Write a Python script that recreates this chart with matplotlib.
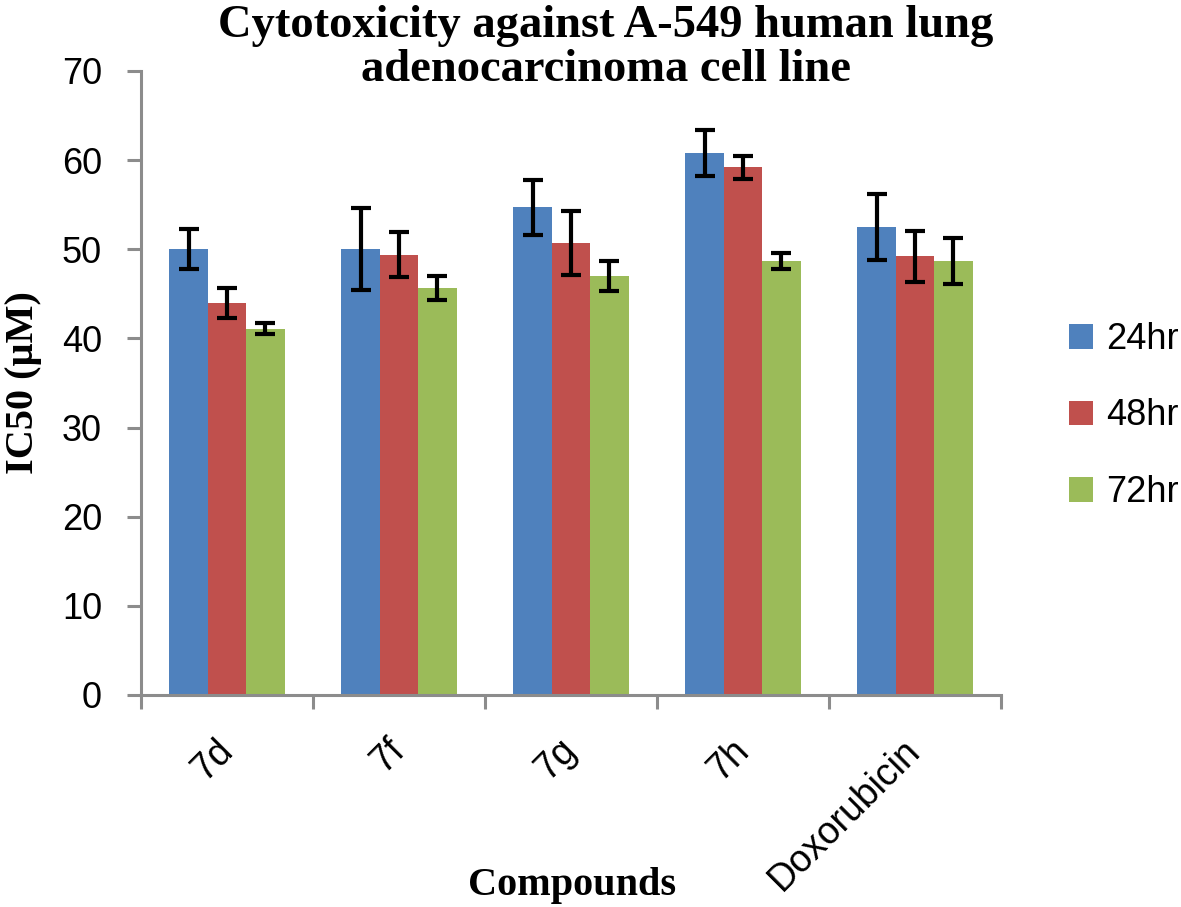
import matplotlib.pyplot as plt
import numpy as np

compounds = ["7d", "7f", "7g", "7h", "Doxorubicin"]
series_names = ["24hr", "48hr", "72hr"]

ic50_24hr = [50.0, 50.0, 54.7, 60.8, 52.5]
err_24hr = [2.25, 4.6, 3.1, 2.6, 3.75]
ic50_48hr = [44.0, 49.4, 50.7, 59.2, 49.2]
err_48hr = [1.7, 2.5, 3.6, 1.3, 2.9]
ic50_72hr = [41.1, 45.7, 47.0, 48.65, 48.65]
err_72hr = [0.6, 1.35, 1.7, 0.9, 2.6]

colors = ["#4F81BD", "#C0504D", "#9BBB59"]

serif = "Liberation Serif"
sans = "Liberation Sans"
axis_grey = "#8C8C8C"

fig = plt.figure(figsize=(11.81, 9.07), dpi=100)
ax = fig.add_axes([141/1181, 1 - 695/907, 860/1181, 624/907])

x = np.arange(len(compounds))
width = 0.2233
all_vals = [ic50_24hr, ic50_48hr, ic50_72hr]
all_errs = [err_24hr, err_48hr, err_72hr]

for k, (vals, errs) in enumerate(zip(all_vals, all_errs)):
    ax.bar(x + (k - 1) * width, vals, width, color=colors[k], label=series_names[k], zorder=2)
    ax.errorbar(x + (k - 1) * width, vals, yerr=errs, fmt="none", ecolor="black",
                elinewidth=3.0, capsize=7, capthick=3.0, zorder=3)

ax.set_xlim(-0.5, len(compounds) - 0.5)
ax.set_ylim(0, 70)
ax.set_yticks(np.arange(0, 71, 10))

for side in ["top", "right"]:
    ax.spines[side].set_visible(False)
for side in ["left", "bottom"]:
    ax.spines[side].set_color(axis_grey)
    ax.spines[side].set_linewidth(2.2)

ax.tick_params(axis="y", direction="out", length=10, width=2.2, color=axis_grey,
               labelsize=26, pad=18)
for lbl in ax.get_yticklabels():
    lbl.set_fontfamily(sans)

ax.set_xticks(x)
ax.set_xticks(np.arange(-0.5, len(compounds), 1.0), minor=True)
ax.tick_params(axis="x", which="major", length=0, pad=36)
ax.tick_params(axis="x", which="minor", direction="out", length=10, width=2.2, color=axis_grey)
ax.set_xticklabels(compounds, rotation=45, ha="right", va="center",
                   rotation_mode="anchor", fontsize=27, fontfamily=sans)

fig.text(606/1181, 1 - 48/907, "Cytotoxicity against A-549 human lung\nadenocarcinoma cell line",
         ha="center", va="center", fontsize=33.5, fontweight="bold", fontfamily=serif,
         linespacing=1.05)
fig.text(572/1181, 1 - 885/907, "Compounds", ha="center", va="center",
         fontsize=29, fontweight="bold", fontfamily=serif)
fig.text(24/1181, 1 - 383/907, "IC50 (µM)", ha="center", va="center", rotation=90,
         fontsize=29, fontweight="bold", fontfamily=serif)

fig.legend(loc="center left", bbox_to_anchor=(1069/1181, 1 - 416/907), frameon=False,
           prop={"family": sans, "size": 26}, handlelength=0.67, handleheight=0.67,
           handletextpad=0.35, labelspacing=1.15, borderaxespad=0, borderpad=0)

fig.savefig("out.png", dpi=100)
